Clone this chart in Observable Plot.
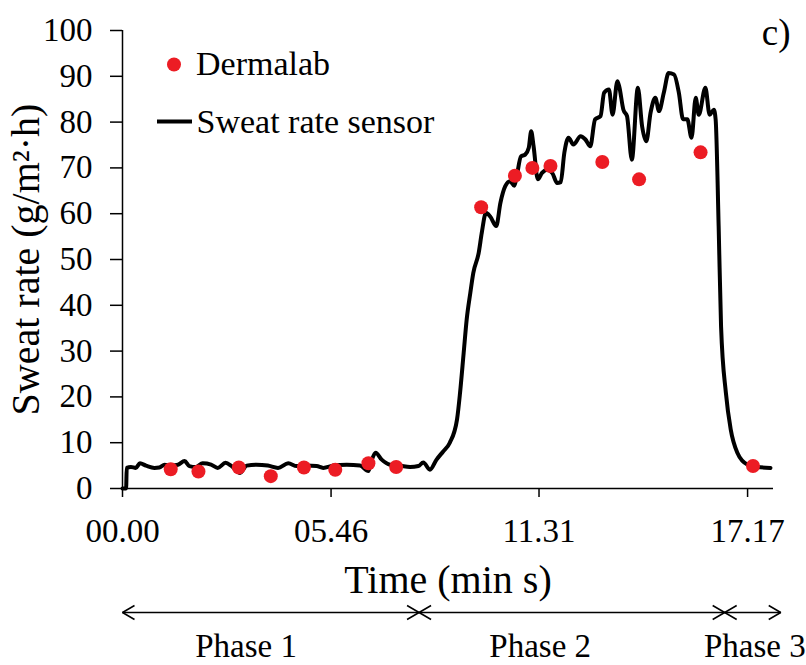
<!DOCTYPE html>
<html>
<head>
<meta charset="utf-8">
<script src="https://cdn.jsdelivr.net/npm/d3@7"></script>
<script src="https://cdn.jsdelivr.net/npm/@observablehq/plot@0.6"></script>
<style>
  html, body { margin: 0; padding: 0; background: white; }
  #chart { width: 806px; height: 665px; }
</style>
</head>
<body>
<div id="chart"></div>
<script>
// ---- Data (time in seconds, sweat rate in g/m²·h) ----
const sensorTime = [0,6,7,14,22,29,39,53,61,70,78,92,103,111,122,133,147,158,171,181,195,206,222,241,258,275,289,305,322,333,350,372,394,408,413,420,430,444,460,477,491,499,510,521,532,543,555,560,566,571,577,582,591,596,603,610,620,627,635,643,650,654,661,668,674,678,682,689,696,704,713,721,727,733,740,748,760,768,776,784,793,799,807,813,821,824,831,837,845,855,862,869,876,884,890,898,906,915,923,930,937,944,951,956,967,974,981,984,989,993,1001,1009,1020,1037,1053,1075];
const sensorRate = [0,0,4.5,4.7,4.5,5.5,5.0,4.5,4.6,5.2,5.0,5.2,6.0,4.9,4.7,5.5,5.2,4.5,5.6,4.9,3.4,5.0,5.2,5.0,4.5,5.5,4.9,5.0,4.9,4.5,5.0,5.2,5.0,3.8,6.0,7.8,6.3,5.2,5.0,4.7,4.9,5.7,4.1,6.3,8.1,10.0,15.1,20.9,29.6,36.9,42.7,47.1,51.5,55.8,60.2,59.4,57.3,62.4,66.0,67.1,66.1,68.2,72.5,72.9,74.4,78.0,74.7,67.5,68.9,69.6,68.9,66.7,66.9,73.3,76.6,75.1,76.9,76.2,74.7,80.6,81.3,86.4,87.1,81.6,88.9,87.8,82.7,81.3,71.8,87.5,79.1,75.8,82.0,85.3,82.4,86.4,90.7,90.4,86.4,80.6,80.6,76.6,85.3,81.6,87.5,81.6,82.7,80.6,57.3,35.4,20.9,12.9,7.8,5.2,4.7,4.5];

const dermalabTime = [80,126,193,246,301,353,408,454,595,651,680,710,796,857,959,1046];
const dermalabRate = [4.2,3.7,4.6,2.7,4.6,4.1,5.5,4.7,61.4,68.3,70.0,70.4,71.3,67.5,73.4,4.9];

const xTicks = [0, 346, 691, 1037];
const xTickLabels = ["00.00", "05.46", "11.31", "17.17"];
const yTicks = [0,10,20,30,40,50,60,70,80,90,100];

const phaseNames = ["Phase 1", "Phase 2", "Phase 3"];
const phaseStart = [0, 492, 999];
const phaseEnd = [492, 999, 1092];
const phaseLabelTime = [205, 693, 1049];

const legendNames = ["Dermalab", "Sweat rate sensor"];
const yTitle = "Sweat rate (g/m\u00B2\u00B7h)";
const xTitle = "Time (min s)";
const panelTag = "c)";

// ---- Build tables ----
const sensor = sensorTime.map((t, i) => ({t, v: sensorRate[i]}));
const dermalab = dermalabTime.map((t, i) => ({t, v: dermalabRate[i]}));
const phases = phaseNames.map((name, i) => ({name, start: phaseStart[i], end: phaseEnd[i], mid: phaseLabelTime[i]}));

const RED = "#ec1c24";
const FONT = "'Liberation Serif', 'Times New Roman', serif";

const chevron = (color) => {
  const m = d3.create("svg:marker")
    .attr("viewBox", "-14 -9 16 18")
    .attr("markerUnits", "userSpaceOnUse")
    .attr("markerWidth", 16)
    .attr("markerHeight", 18)
    .attr("refX", 0)
    .attr("refY", 0)
    .attr("orient", "auto-start-reverse")
    .attr("fill", "none")
    .attr("stroke", color)
    .attr("stroke-width", 1.5);
  m.append("path").attr("d", "M-12,-7L0,0L-12,7");
  return m.node();
};

const lineSymbol = {
  draw(context) {
    context.moveTo(-17.5, 0);
    context.lineTo(17.5, 0);
  }
};

const chart = Plot.plot({
  width: 806,
  height: 665,
  marginLeft: 122,
  marginRight: 33,
  marginTop: 30,
  marginBottom: 177,
  style: {fontFamily: FONT, fontSize: "33px", color: "black", background: "white", overflow: "visible"},
  x: {domain: [0, 1080], ticks: xTicks},
  y: {domain: [0, 100], ticks: yTicks},
  marks: [
    Plot.axisY({ticks: yTicks, tickSize: 12, tickPadding: 18, fontSize: 33, strokeWidth: 1.5, label: null}),
    Plot.axisX({ticks: xTicks, tickFormat: (d, i) => xTickLabels[i], tickSize: 9, tickPadding: 21, fontSize: 33, strokeWidth: 1.5, label: null}),
    Plot.ruleY([0], {strokeWidth: 1.5}),
    Plot.ruleX([0], {strokeWidth: 1.5}),
    Plot.line(sensor, {x: "t", y: "v", curve: "monotone-x", stroke: "black", strokeWidth: 4, strokeLinejoin: "round"}),
    Plot.dot(dermalab, {x: "t", y: "v", r: 7, fill: RED, stroke: null}),
    // legend
    Plot.dot([legendNames[0]], {x: null, y: null, frameAnchor: "top-left", dx: 51.5, dy: 34, r: 7, fill: RED, stroke: null}),
    Plot.text([legendNames[0]], {frameAnchor: "top-left", dx: 73.5, dy: 44, textAnchor: "start", lineAnchor: "bottom", fontSize: 34}),
    Plot.dot([legendNames[1]], {x: null, y: null, frameAnchor: "top-left", dx: 52, dy: 91, symbol: lineSymbol, r: 10, fill: "none", stroke: "black", strokeWidth: 4}),
    Plot.text([legendNames[1]], {frameAnchor: "top-left", dx: 74, dy: 102.5, textAnchor: "start", lineAnchor: "bottom", fontSize: 34}),
    // panel tag
    Plot.text([panelTag], {frameAnchor: "top-right", dx: 17, dy: 14, textAnchor: "end", lineAnchor: "bottom", fontSize: 37}),
    // axis titles
    Plot.text([yTitle], {frameAnchor: "left", rotate: -90, dx: -84, textAnchor: "middle", lineAnchor: "bottom", fontSize: 40}),
    Plot.text([xTitle], {frameAnchor: "bottom", dy: 104, textAnchor: "middle", lineAnchor: "bottom", fontSize: 40}),
    // phases
    Plot.link(phases, {x1: "start", x2: "end", y1: 0, y2: 0, dy: 124, stroke: "black", strokeWidth: 1.5, markerStart: chevron, markerEnd: chevron}),
    Plot.text(phases, {x: "mid", y: 0, text: "name", dy: 168, textAnchor: "middle", lineAnchor: "bottom", fontSize: 33})
  ]
});

document.getElementById("chart").appendChild(chart);
</script>
</body>
</html>
